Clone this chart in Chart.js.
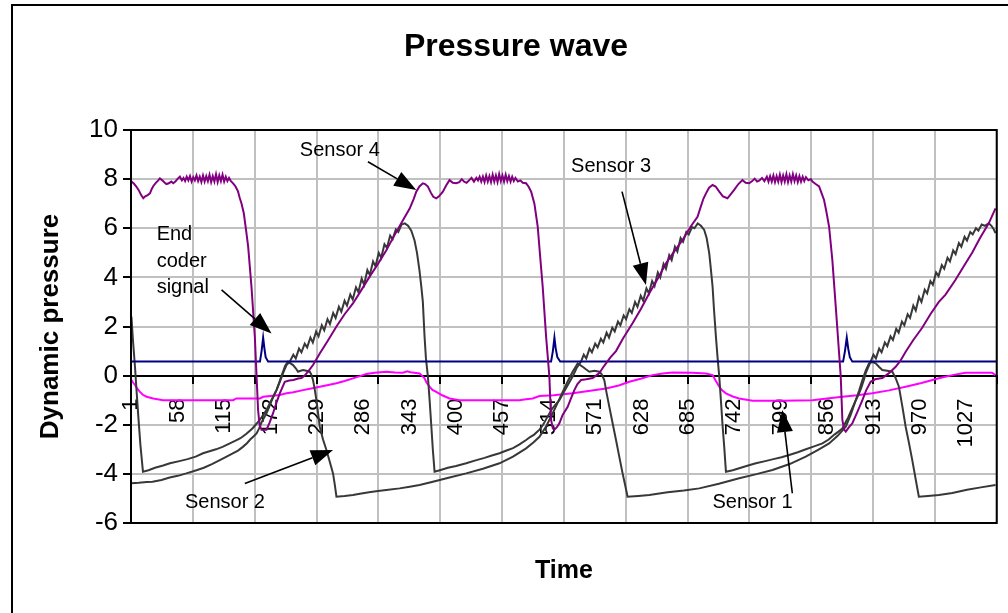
<!DOCTYPE html>
<html><head><meta charset="utf-8">
<script src="https://cdn.jsdelivr.net/npm/chart.js@4/dist/chart.umd.min.js"></script>
<style>html,body{margin:0;padding:0;background:#fff}#wrap{width:1008px;height:613px;position:relative}</style>
</head><body><div id="wrap"><canvas id="c" width="1008" height="613"></canvas></div>
<script>
// ---------- data (time index, dynamic pressure) ----------
const timeLabels = [1,58,115,172,229,286,343,400,457,514,571,628,685,742,799,856,913,970,1027];
const gridTimes = [0.5,76.5,152.5,228.5,304.5,380.5,456.5,532.5,608.5,684.5,760.5,836.5,912.5,988.5,1064.5];

const sensor4 = [[1,7.9],[4,7.82],[7,7.7],[10,7.55],[13,7.35],[15.6,7.22],[18,7.3],[21,7.35],[23.8,7.42],[26,7.6],[28,7.72],[31,7.85],[34,7.95],[36,8.03],[39,7.95],[42,7.85],[44,7.8],[47,7.83],[50,7.9],[52.4,7.83],[55,7.9],[58,8.02],[60.6,8.1],[63,7.95],[65,8.05],[67,7.92],[69,8.1],[71,7.95],[73,8.12],[75,7.9],[77,8.08],[79,7.95],[81,8.15],[83,7.92],[85,8.1],[87,7.88],[89,8.15],[91,7.9],[93,8.12],[95,7.92],[97,8.18],[99,7.88],[101,8.12],[103,7.9],[105,8.2],[107,7.88],[109,8.15],[111,7.92],[113,8.18],[115,7.9],[117,8.1],[119,7.92],[121,8.05],[123,7.93],[126,7.83],[129,7.7],[132,7.5],[134,7.25],[136.4,7.0],[139.2,6.6],[142,5.9],[144.5,5.25],[148.6,3.6],[152.7,1.58],[154.8,0.0],[156.7,-1.4],[158.5,-2.0],[160.9,-2.2],[167,-2.2],[171,-1.9],[175.1,-1.53],[179.3,-1.1],[183.4,-0.72],[189.5,-0.25],[195,-0.2],[200,-0.18],[206,-0.12],[210,-0.1],[214,0.0],[218.1,0.16],[224.2,0.43],[232.5,0.9],[242,1.4],[253,2.0],[263,2.5],[273.3,2.94],[283,3.45],[293.8,4.03],[304,4.55],[314.3,5.1],[324,5.7],[334.7,6.33],[343,6.8],[348,7.2],[351.1,7.49],[355,7.7],[359.2,7.83],[362,7.8],[365.4,7.7],[369,7.45],[372,7.28],[375.7,7.22],[379,7.3],[383.8,7.49],[388,7.75],[392,7.96],[396,7.85],[400.2,7.83],[404,7.88],[407,8.0],[410,7.9],[413,7.85],[416,7.95],[419,8.05],[422,7.9],[425,8.05],[427,7.95],[429,8.1],[431,7.9],[433,8.1],[435,7.88],[437,8.15],[439,7.9],[441,8.12],[443,7.88],[445,8.18],[447,7.9],[449,8.15],[451,7.88],[453,8.2],[455,7.92],[457,8.15],[459,7.9],[461,8.18],[463,7.92],[465,8.12],[467,7.9],[469,8.1],[471,7.92],[473,8.05],[476,7.9],[479,7.95],[482,7.85],[486.1,7.83],[489,7.7],[492.3,7.49],[496.3,7.0],[500.4,6.06],[503,5.0],[506.5,3.62],[510.7,1.58],[514.7,-0.04],[516.8,-1.8],[519,-2.15],[520.9,-2.2],[524,-2.1],[527,-1.94],[531,-1.6],[537.2,-1.27],[541,-0.95],[545.4,-0.59],[549,-0.35],[553.6,-0.18],[560,-0.15],[567.9,-0.1],[572,0.0],[576.1,0.1],[580,0.3],[584.3,0.5],[590,0.75],[596.6,1.0],[605,1.5],[616.9,2.13],[627,2.7],[637.5,3.35],[648,3.95],[658,4.57],[668,5.05],[678.4,5.52],[688,6.05],[696.8,6.47],[700,6.8],[704,7.2],[707.2,7.42],[711,7.65],[715.3,7.76],[719,7.7],[723.5,7.49],[728,7.3],[733.6,7.22],[738,7.4],[741.8,7.56],[747,7.8],[752,7.96],[756,7.85],[760.3,7.83],[764,7.92],[767,8.02],[770,7.9],[773,7.95],[776,8.05],[779,7.92],[782,8.1],[784,7.9],[786,8.12],[788,7.9],[790,8.15],[792,7.88],[794,8.12],[796,7.9],[798,8.18],[800,7.88],[802,8.15],[804,7.9],[806,8.2],[808,7.88],[810,8.15],[812,7.9],[814,8.2],[816,7.92],[818,8.15],[820,7.88],[822,8.12],[824,7.9],[826,8.1],[828,7.92],[830,8.08],[833,7.95],[836,8.0],[838,7.9],[842,7.8],[846.2,7.7],[849,7.45],[852.3,7.15],[855,6.7],[858.5,6.06],[862.5,4.7],[866.7,2.8],[870.8,0.9],[872.8,-0.04],[874.8,-1.8],[877,-2.2],[879,-2.28],[883,-2.1],[887.1,-1.94],[893,-1.5],[899.4,-1.0],[904,-0.6],[909.6,-0.25],[915,-0.15],[923.9,-0.1],[928,0.0],[932.1,0.1],[940.3,0.36],[946,0.6],[952.6,0.97],[962,1.45],[972.9,1.95],[983,2.5],[993.4,3.0],[1001.6,3.3],[1013.9,3.9],[1024,4.45],[1034.3,5.0],[1044,5.6],[1054.7,6.2],[1063,6.81]];

const sensor3 = [[1,2.4],[3,1.4],[5.4,0.36],[7.5,-0.7],[9.5,-1.67],[12,-2.8],[15.2,-3.91],[22,-3.85],[30,-3.75],[40,-3.66],[48.4,-3.57],[60,-3.48],[70,-3.4],[80,-3.3],[89,-3.16],[97,-3.08],[105,-3.0],[113,-2.9],[122,-2.76],[129,-2.65],[135,-2.55],[142,-2.38],[149.7,-2.15],[155,-1.95],[161,-1.7],[167,-1.4],[173,-1.0],[179.3,-0.59],[184,-0.2],[188,0.15],[191.6,0.43],[195.6,0.57],[200,0.85],[203,0.7],[207,1.1],[210,0.95],[214,1.3],[217,1.15],[221,1.55],[224,1.35],[228,1.8],[231,1.6],[235,2.05],[238,1.85],[242,2.3],[245,2.1],[249,2.55],[252,2.35],[256,2.8],[259,2.6],[263,3.05],[266,2.85],[270,3.3],[273,3.1],[277,3.6],[280,3.4],[284,3.95],[287,3.7],[291,4.3],[294,4.1],[298,4.65],[301,4.45],[305,5.0],[308,4.8],[312,5.35],[315,5.2],[319,5.7],[322,5.55],[326,5.95],[329,5.85],[333,6.15],[337,6.2],[341,6.1],[345,5.9],[349,5.5],[352,5.0],[355,4.3],[357.3,3.62],[359.2,3.0],[361.3,1.58],[363,0.7],[365.4,-0.04],[367.5,-1.0],[369.5,-2.0],[371.5,-3.03],[373.6,-3.91],[380,-3.85],[390,-3.75],[400,-3.68],[412.5,-3.57],[424,-3.45],[435,-3.35],[444,-3.25],[453.4,-3.16],[462,-3.05],[470,-2.95],[478,-2.8],[486.1,-2.62],[491,-2.5],[496,-2.4],[502.5,-2.2],[507,-2.0],[512,-1.7],[518,-1.35],[523,-1.15],[527,-1.0],[532,-0.7],[537,-0.4],[543.3,-0.04],[548,0.3],[553.6,0.57],[557,0.85],[560,0.7],[564,1.1],[567,0.95],[571,1.3],[574,1.15],[578,1.5],[581,1.35],[585,1.75],[588,1.55],[592,1.95],[595,1.8],[599,2.2],[602,2.05],[606,2.45],[609,2.3],[613,2.7],[616,2.55],[620,3.0],[623,2.8],[627,3.25],[630,3.05],[634,3.55],[637,3.35],[641,3.85],[644,3.65],[648,4.2],[651,4.0],[655,4.55],[658,4.35],[662,4.9],[665,4.7],[669,5.25],[672,5.05],[676,5.6],[679,5.45],[683,5.85],[686,5.75],[690,6.05],[693,6.0],[697,6.2],[701,6.1],[705,5.93],[708,5.6],[711.2,4.98],[713,4.4],[715.3,3.62],[717,2.7],[719.4,1.58],[721.5,0.7],[723.5,-0.04],[725.5,-1.0],[727.5,-2.0],[729.6,-2.9],[731.7,-3.91],[740,-3.85],[750,-3.75],[760,-3.65],[768.5,-3.57],[780,-3.48],[790,-3.4],[800,-3.32],[809.4,-3.23],[820,-3.12],[830,-3.0],[840,-2.88],[850.3,-2.76],[858,-2.6],[865,-2.4],[870,-2.28],[874.8,-2.15],[878,-1.95],[882,-1.7],[886,-1.4],[891.3,-1.0],[895,-0.75],[898,-0.5],[901,-0.2],[903.5,0.1],[906,0.3],[909.6,0.57],[913,0.85],[916,0.7],[920,1.1],[923,0.95],[927,1.35],[930,1.2],[934,1.6],[937,1.45],[941,1.9],[944,1.75],[948,2.2],[951,2.05],[955,2.5],[958,2.35],[962,2.85],[965,2.65],[969,3.2],[972,3.0],[976,3.5],[979,3.35],[983,3.85],[986,3.7],[990,4.2],[993,4.05],[997,4.5],[1000,4.35],[1004,4.8],[1007,4.65],[1011,5.1],[1014,4.95],[1018,5.4],[1021,5.25],[1025,5.65],[1028,5.5],[1032,5.85],[1035,5.75],[1039,6.0],[1042,5.9],[1046,6.15],[1050,6.1],[1054.7,6.2],[1058,6.1],[1061,5.95],[1063,5.8]];

const sensor2 = [[1,-4.38],[10,-4.36],[20,-4.33],[27,-4.32],[38,-4.25],[48,-4.15],[58,-4.08],[68.5,-3.98],[80,-3.86],[90,-3.75],[100,-3.6],[109.7,-3.44],[118,-3.3],[125,-3.18],[132,-3.05],[138,-2.9],[143,-2.75],[147,-2.6],[151,-2.48],[154.8,-2.35],[158,-2.15],[161,-1.9],[164,-1.72],[167,-1.53],[170,-1.3],[173,-1.05],[176,-0.82],[179.3,-0.59],[182,-0.35],[184,-0.15],[187.4,0.16],[190,0.4],[193.5,0.57],[196.5,0.5],[199.7,0.43],[203,0.3],[205.8,0.16],[209,0.2],[212,0.23],[216,0.2],[220.2,0.16],[222,0.05],[224.2,-0.18],[226,-0.5],[228.4,-1.0],[230.5,-1.55],[232.5,-2.08],[236.5,-2.6],[240.7,-3.03],[244.7,-3.5],[248.8,-3.98],[251,-4.45],[253,-4.93],[263,-4.9],[273.3,-4.86],[280,-4.82],[293,-4.75],[304,-4.7],[314.3,-4.66],[330.6,-4.59],[343,-4.52],[355.2,-4.45],[371.5,-4.32],[392,-4.15],[412.5,-3.98],[433,-3.79],[453.4,-3.57],[470,-3.3],[486.1,-2.96],[495,-2.72],[502.5,-2.49],[511,-2.05],[518.8,-1.53],[525,-1.1],[531.1,-0.66],[537,-0.25],[543.3,0.16],[549.5,0.5],[555.6,0.36],[560,0.25],[563.8,0.16],[570,0.2],[576.1,0.16],[579,0.05],[582.2,-0.18],[585,-0.7],[588.4,-1.27],[592.5,-1.95],[596.6,-2.62],[600.6,-3.3],[604.7,-3.98],[607.8,-4.45],[610.8,-4.93],[624,-4.9],[637.5,-4.86],[660,-4.75],[680,-4.68],[698.9,-4.59],[723,-4.4],[748,-4.18],[768,-4.02],[788.9,-3.84],[810,-3.6],[829.8,-3.3],[845,-3.02],[858.5,-2.76],[869,-2.45],[879,-2.08],[885,-1.6],[891.3,-1.0],[895.5,-0.6],[899.4,-0.18],[903.5,0.2],[907.6,0.5],[911.7,0.55],[915.8,0.5],[920,0.35],[923.9,0.23],[930,0.2],[936.2,0.16],[940.3,-0.1],[944.3,-0.45],[948.5,-1.25],[952.6,-2.08],[956.7,-2.75],[960.7,-3.44],[964.8,-4.2],[968.8,-4.93],[980,-4.9],[993.4,-4.86],[1010,-4.78],[1028,-4.65],[1045,-4.55],[1063,-4.45]];

const sensor1 = [[1,-0.18],[3,-0.28],[5.4,-0.38],[8,-0.52],[11.5,-0.66],[15,-0.78],[19.7,-0.86],[27.8,-0.93],[40,-1.0],[126,-1.0],[130,-0.93],[159,-0.93],[163,-0.86],[183.4,-0.79],[191.6,-0.72],[200,-0.68],[212,-0.59],[222,-0.52],[232.5,-0.45],[243,-0.38],[253,-0.31],[263,-0.22],[273.3,-0.11],[282,-0.02],[289.8,0.07],[300,0.12],[314.3,0.16],[325,0.13],[334.7,0.12],[340,0.18],[344,0.14],[355.2,0.09],[358,0.0],[361.3,-0.11],[364,-0.3],[367.5,-0.45],[371,-0.58],[375.7,-0.66],[383,-0.8],[392,-0.93],[404.3,-1.0],[478,-1.0],[486,-0.96],[494.2,-0.93],[502.5,-0.83],[520,-0.8],[543.3,-0.72],[565,-0.62],[584.3,-0.52],[600,-0.4],[612.9,-0.25],[628,-0.12],[641.5,0.02],[654,0.09],[666.1,0.13],[690,0.12],[707.2,0.09],[715.3,0.02],[719,-0.2],[723.5,-0.45],[727,-0.6],[731.7,-0.72],[740,-0.85],[748,-0.93],[764.3,-1.02],[800,-1.02],[838,-1.0],[856,-0.93],[874.8,-0.86],[893,-0.8],[911.6,-0.72],[932,-0.6],[952.6,-0.45],[972,-0.3],[993.4,-0.11],[1010,0.02],[1026.1,0.12],[1045,0.12],[1058.8,0.12],[1063,0.02]];

const endCoder = [[1,0.57],[159,0.57],[161,1.0],[162.9,1.55],[164.5,1.1],[166,0.75],[169,0.57],[516.8,0.57],[519,1.0],[520.9,1.55],[522.5,1.1],[524.5,0.75],[528,0.57],[875.7,0.57],[878,1.0],[880.2,1.55],[882,1.1],[884,0.75],[887,0.57],[1064,0.57]];

// callouts: text anchor, arrow start and arrow tip, in (time, pressure)
const notes = [
  {text:['Sensor 4'], at:[208,8.94], from:[291.7,8.71], to:[351.1,7.56]},
  {text:['Sensor 3'], at:[541.4,8.3], from:[604,7.49], to:[633.4,3.69]},
  {text:['End','coder','signal'], at:[32,5.52], from:[111.8,3.49], to:[173.2,1.72]},
  {text:['Sensor 2'], at:[66.8,-5.4], from:[140.4,-4.39], to:[248.8,-3.03]},
  {text:['Sensor 1'], at:[715.2,-5.4], from:[813.3,-4.79], to:[801,-1.4]}
];

// ---------- chart ----------
const FONT = "'Liberation Sans', Arial, Helvetica, sans-serif";
Chart.defaults.font.family = FONT;
Chart.defaults.color = '#000';
const toXY = a => a.map(p => ({x:p[0], y:p[1]}));

const framePlugin = {
  id:'frame',
  beforeDraw(chart){
    const ctx = chart.ctx;
    ctx.save();
    ctx.fillStyle = '#fff';
    ctx.fillRect(0,0,chart.width,chart.height);
    ctx.strokeStyle = '#000'; ctx.lineWidth = 2;
    ctx.strokeRect(12,5,chart.width+20,chart.height+20);
    ctx.restore();
  },
  afterDatasetsDraw(chart){
    const {ctx, chartArea:a} = chart;
    ctx.save();
    ctx.strokeStyle = '#000'; ctx.lineWidth = 2;
    ctx.strokeRect(a.left, a.top, a.right-a.left, a.bottom-a.top);
    ctx.restore();
  }
};

const notePlugin = {
  id:'notes',
  afterDraw(chart){
    const {ctx, scales:{x, y}} = chart;
    ctx.save();
    ctx.font = "20px " + FONT;
    ctx.fillStyle = '#000'; ctx.strokeStyle = '#000';
    ctx.textAlign = 'left'; ctx.textBaseline = 'alphabetic';
    notes.forEach(n => {
      const tx = x.getPixelForValue(n.at[0]), ty = y.getPixelForValue(n.at[1]);
      n.text.forEach((line,i) => ctx.fillText(line, tx, ty + i*26.7));
      const x1 = x.getPixelForValue(n.from[0]), y1 = y.getPixelForValue(n.from[1]);
      const x2 = x.getPixelForValue(n.to[0]), y2 = y.getPixelForValue(n.to[1]);
      const ang = Math.atan2(y2-y1, x2-x1), L = 22, W = 8;
      const bx = x2 - L*Math.cos(ang), by = y2 - L*Math.sin(ang);
      ctx.lineWidth = 1.6;
      ctx.beginPath(); ctx.moveTo(x1,y1); ctx.lineTo(bx,by); ctx.stroke();
      ctx.beginPath(); ctx.moveTo(x2,y2);
      ctx.lineTo(bx + W*Math.sin(ang), by - W*Math.cos(ang));
      ctx.lineTo(bx - W*Math.sin(ang), by + W*Math.cos(ang));
      ctx.closePath(); ctx.fill();
    });
    ctx.restore();
  }
};

const lineDs = (label, arr, color) => ({label, data: toXY(arr), borderColor: color, borderWidth: 2, pointRadius: 0, tension: 0, fill: false});

new Chart(document.getElementById('c'), {
  type: 'line',
  data: { datasets: [
    lineDs('Sensor 4', sensor4, '#800080'),
    lineDs('End coder signal', endCoder, '#000080'),
    lineDs('Sensor 3', sensor3, '#383838'),
    lineDs('Sensor 2', sensor2, '#383838'),
    lineDs('Sensor 1', sensor1, '#FF00FF')
  ]},
  options: {
    responsive: false, animation: false, devicePixelRatio: 1,
    layout: {padding: {left: 35, right: 11, top: 0, bottom: 0}},
    plugins: {
      legend: {display: false}, tooltip: {enabled: false},
      title: {display: true, text: 'Pressure wave', color: '#000', font: {size: 32, weight: 'bold'}, padding: {top: 27.8, bottom: 63.8}},
      subtitle: {display: true, position: 'bottom', fullSize: false, text: 'Time', color: '#000', font: {size: 25, weight: 'bold'}, padding: {top: 33.3, bottom: 26.7}}
    },
    scales: {
      x: {type: 'linear', min: 0.5, max: 1064.5, position: {y: 0},
        afterBuildTicks: s => { s.ticks = gridTimes.map(v => ({value: v})); },
        afterFit: s => { s.height = 0; },
        ticks: {display: false},
        grid: {color: '#c0c0c0', lineWidth: 2, tickColor: '#000', tickLength: 7, tickWidth: 2},
        border: {display: true, color: '#000', width: 2}},
      xLabels: {type: 'linear', axis: 'x', min: 0.5, max: 1064.5, position: {y: 0},
        afterBuildTicks: s => { s.ticks = timeLabels.map(v => ({value: v})); },
        afterFit: s => { s.height = 0; },
        ticks: {autoSkip: false, minRotation: 90, maxRotation: 90, padding: 15, color: '#000', font: {size: 22}, callback: v => String(v)},
        grid: {display: false, drawTicks: true, tickLength: 8},
        border: {display: false}},
      y: {type: 'linear', min: -6, max: 10, position: 'left',
        afterFit: s => { s.width = 96; },
        ticks: {stepSize: 2, padding: 5, color: '#000', font: {size: 26}},
        grid: {color: '#c0c0c0', lineWidth: 2, tickColor: '#000', tickLength: 8, tickWidth: 2},
        border: {color: '#000', width: 2},
        title: {display: true, text: 'Dynamic pressure', color: '#000', font: {size: 26, weight: 'bold'}, padding: {top: 0.4, bottom: 0}}}
    }
  },
  plugins: [framePlugin, notePlugin]
});
</script>
</body></html>
